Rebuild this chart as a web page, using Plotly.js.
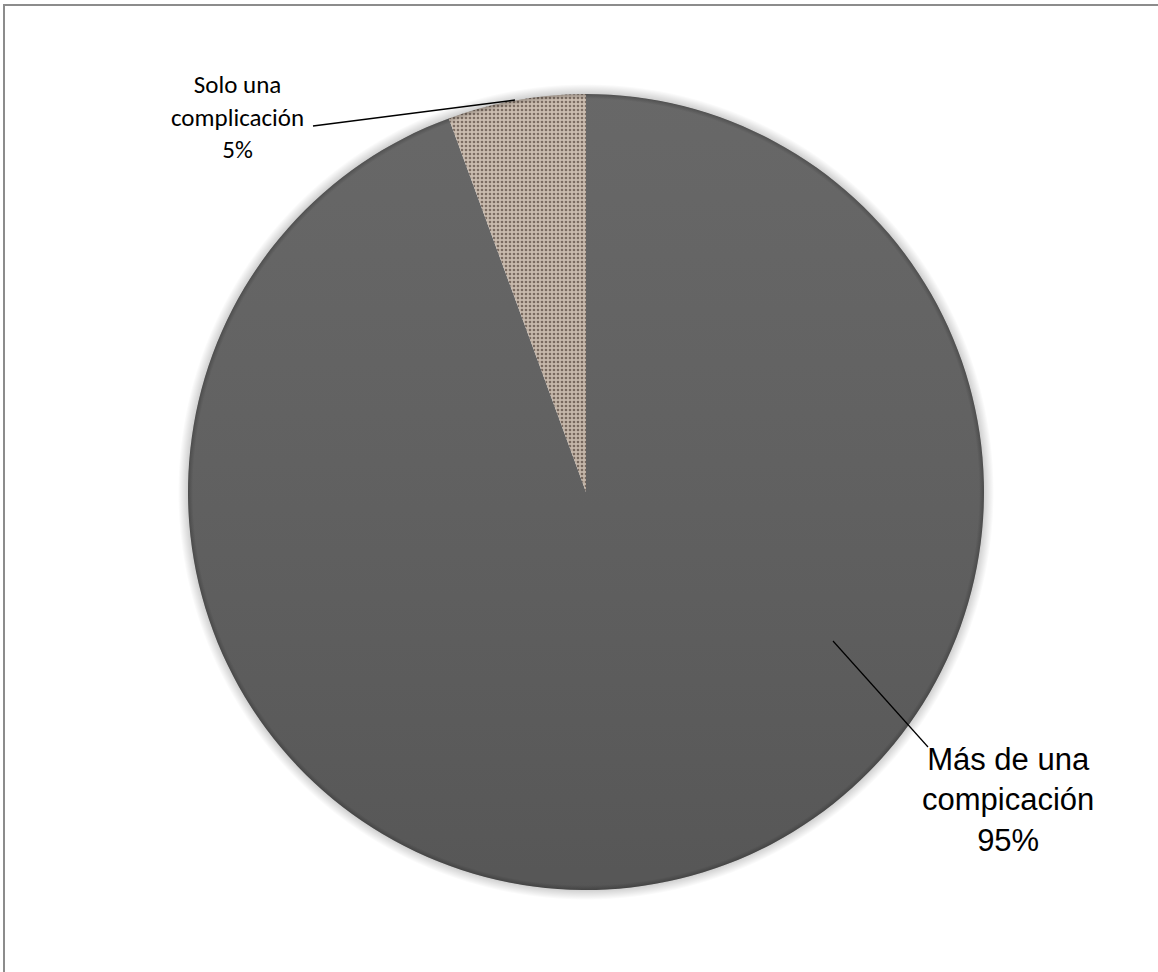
<!DOCTYPE html>
<html>
<head>
<meta charset="utf-8">
<script src="https://cdn.plot.ly/plotly-3.0.1.min.js"></script>
<style>html,body{margin:0;padding:0;background:#fff;}#chart{width:1158px;height:972px;}</style>
</head>
<body>
<div id="chart"></div>
<script>
// Data
const categories = ["Más de una compicación", "Solo una complicación"];
const values = [94.4, 5.6];
const percentLabels = ["95%", "5%"];

const W = 1158, H = 972;
const cx = 586, cy = 492, r = 398;
const px = x => x / W;
const py = y => 1 - y / H;

const trace = {
  type: "pie",
  labels: categories,
  values: values,
  sort: false,
  direction: "counterclockwise",
  rotation: 0,
  textinfo: "none",
  hoverinfo: "label+percent",
  showlegend: false,
  domain: {x: [px(cx - r), px(cx + r)], y: [py(cy + r), py(cy - r)]},
  marker: {
    colors: ["#5e5e5e", "#c2b4a6"],
    line: {width: 0},
    pattern: {
      shape: ["", "."],
      fgcolor: ["#5e5e5e", "#75655a"],
      bgcolor: ["#5e5e5e", "#c8b9ab"],
      size: [8, 4],
      solidity: [0.3, 0.35],
      fillmode: "replace"
    }
  }
};

// subtle shading overlay (soft outer shadow + vertical light gradient)
const pad = 10, R = r + pad;
const inner = r / R;
const svg = '<svg xmlns="http://www.w3.org/2000/svg" width="' + 2*R + '" height="' + 2*R + '" viewBox="0 0 ' + 2*R + ' ' + 2*R + '">' +
  '<defs>' +
  '<linearGradient id="lg" x1="0" y1="0" x2="0" y2="1">' +
  '<stop offset="0" stop-color="#ffffff" stop-opacity="0.06"/>' +
  '<stop offset="1" stop-color="#000000" stop-opacity="0.08"/></linearGradient>' +
  '<radialGradient id="rg" cx="0.5" cy="0.5" r="0.5">' +
  '<stop offset="' + (inner - 0.012) + '" stop-color="#000" stop-opacity="0"/>' +
  '<stop offset="' + inner + '" stop-color="#000" stop-opacity="0.22"/>' +
  '<stop offset="' + (inner + 0.0005) + '" stop-color="#000" stop-opacity="0.18"/>' +
  '<stop offset="1" stop-color="#000" stop-opacity="0"/></radialGradient>' +
  '</defs>' +
  '<circle cx="' + R + '" cy="' + R + '" r="' + r + '" fill="url(#lg)"/>' +
  '<circle cx="' + R + '" cy="' + R + '" r="' + R + '" fill="url(#rg)"/>' +
  '</svg>';

const layout = {
  width: W, height: H,
  margin: {l: 0, r: 0, t: 0, b: 0},
  paper_bgcolor: "#ffffff",
  showlegend: false,
  images: [
    {source: "data:image/svg+xml;charset=utf-8," + encodeURIComponent(svg),
     xref: "paper", yref: "paper", x: px(cx - R), y: py(cy - R),
     sizex: px(2 * R), sizey: 2 * R / H, xanchor: "left", yanchor: "top",
     sizing: "stretch", layer: "above"}
  ],
  shapes: [
    {type: "rect", xref: "paper", yref: "paper", x0: px(4), x1: px(1170), y0: py(990), y1: py(5),
     line: {color: "#8c8c8c", width: 2}, fillcolor: "rgba(0,0,0,0)"},
    {type: "line", xref: "paper", yref: "paper", x0: px(313), y0: py(126), x1: px(515), y1: py(100),
     line: {color: "#000", width: 1.5}},
    {type: "line", xref: "paper", yref: "paper", x0: px(833), y0: py(641), x1: px(928), y1: py(747),
     line: {color: "#000", width: 1.2}}
  ],
  annotations: [
    {xref: "paper", yref: "paper", x: px(237), y: py(117), xanchor: "center", yanchor: "middle",
     text: "Solo una<br>complicación<br>" + percentLabels[1], showarrow: false, align: "center",
     font: {family: "Carlito, Lato, 'Open Sans', sans-serif", size: 25, color: "#000"}},
    {xref: "paper", yref: "paper", x: px(1008), y: py(800), xanchor: "center", yanchor: "middle",
     text: "Más de una<br>compicación<br>" + percentLabels[0], showarrow: false, align: "center",
     font: {family: "'Liberation Sans', Arial, sans-serif", size: 31, color: "#000"}}
  ]
};

Plotly.newPlot("chart", [trace], layout, {displayModeBar: false, staticPlot: true});
</script>
</body>
</html>
